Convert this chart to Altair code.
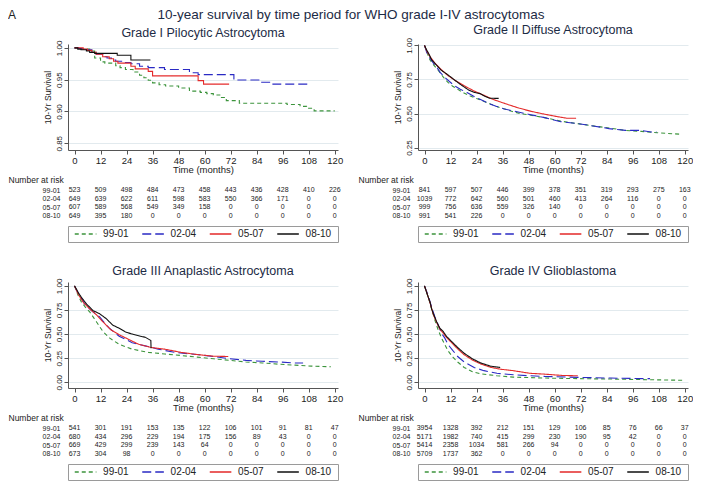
import altair as alt
import pandas as pd

FONT = "Liberation Sans"
MAIN_TITLE = "10-year survival by time period for WHO grade I-IV astrocytomas"
PANEL_LETTER = "A"
PERIODS = ["99-01", "02-04", "05-07", "08-10"]
COLORS = ["#3c943c", "#2a2ac4", "#e42a2a", "#111111"]
DASHES = [[4, 3], [9, 4], [1, 0], [1, 0]]
MONTHS = [0, 12, 24, 36, 48, 60, 72, 84, 96, 108, 120]

# ---- Grade I Pilocytic Astrocytoma (month, survival) ----
G1_9901 = [(0, 1.0), (3, 0.998), (7, 0.995), (9.3, 0.984), (12, 0.978), (14, 0.976), (19, 0.972),
           (21, 0.969), (23.5, 0.966), (27, 0.962), (30, 0.957), (32, 0.953), (34, 0.949), (36, 0.945),
           (39, 0.942), (42, 0.940), (48, 0.937), (53, 0.932), (58, 0.930), (61, 0.928), (64, 0.926),
           (67, 0.922), (70, 0.917), (76, 0.913), (98, 0.911), (104, 0.908), (107, 0.905),
           (110.5, 0.901), (120, 0.901)]
G1_0204 = [(0, 1.0), (2, 0.999), (5, 0.997), (8, 0.993), (10, 0.990), (13, 0.986), (15, 0.984),
           (17, 0.981), (19, 0.979), (22, 0.977), (26, 0.975), (30, 0.971), (34, 0.969), (41.5, 0.966),
           (53, 0.961), (57, 0.958), (73.5, 0.9495), (85, 0.946), (91.5, 0.943), (107.5, 0.943)]
G1_0507 = [(0, 1.0), (4, 0.998), (6, 0.996), (8, 0.993), (10, 0.990), (13, 0.986), (16, 0.983),
           (18, 0.979), (20, 0.976), (26, 0.971), (28, 0.967), (34, 0.963), (36, 0.956),
           (57, 0.9485), (59.5, 0.943), (71.3, 0.943)]
G1_0810 = [(0, 1.0), (1.5, 0.998), (3, 0.997), (5.5, 0.995), (7, 0.993), (9.3, 0.9914),
           (19.7, 0.9884), (26, 0.981), (35, 0.981)]

# ---- Grade II Diffuse Astrocytoma ----
G2_9901 = [(0, 1.0), (1, 0.955), (2.5, 0.894), (4, 0.86), (6.3, 0.818), (8.5, 0.77), (10.7, 0.73),
           (13, 0.70), (15.2, 0.679), (18, 0.652), (21.1, 0.629), (24, 0.61), (27.1, 0.591),
           (30, 0.572), (33, 0.553), (36.5, 0.535), (40.5, 0.515), (44, 0.50), (48, 0.49),
           (55.4, 0.47), (62.8, 0.444), (70.2, 0.427), (77.7, 0.409), (85.1, 0.394), (92.6, 0.376),
           (100, 0.369), (107.4, 0.359), (114.9, 0.351), (118.6, 0.348)]
G2_0204 = [(0, 1.0), (1, 0.95), (2.5, 0.907), (4, 0.872), (5.5, 0.843), (7.3, 0.80), (9.2, 0.768),
           (11.5, 0.735), (13.7, 0.705), (16.5, 0.678), (19.6, 0.654), (22.5, 0.628), (25.6, 0.604),
           (29, 0.578), (33, 0.553), (36.5, 0.535), (40.5, 0.52), (47.9, 0.495), (55.4, 0.47),
           (62.8, 0.44), (70.2, 0.427), (77.7, 0.409), (85.1, 0.389), (92.6, 0.376), (100, 0.376),
           (104.5, 0.364), (107, 0.364)]
G2_0507 = [(0, 1.0), (1, 0.96), (2.5, 0.919), (4.8, 0.869), (7.7, 0.823), (10.7, 0.78),
           (13.7, 0.747), (18.2, 0.705), (22.6, 0.667), (27.1, 0.636), (31.5, 0.604), (37.5, 0.571),
           (43.5, 0.54), (49.4, 0.515), (55.4, 0.495), (61.3, 0.477), (65.8, 0.465), (69.9, 0.465)]
G2_0810 = [(0, 1.0), (1, 0.965), (1.8, 0.944), (3.3, 0.894), (5.5, 0.856), (7.7, 0.818),
           (10.7, 0.785), (13.7, 0.748), (16.7, 0.712), (20.4, 0.672), (23, 0.655), (25.6, 0.646),
           (27.1, 0.632), (30, 0.612), (34.2, 0.611)]

# ---- Grade III Anaplastic Astrocytoma ----
G3_9901 = [(0, 1.0), (1.8, 0.893), (3.3, 0.827), (5, 0.78), (7.1, 0.727), (10.1, 0.627),
           (13.1, 0.527), (16.1, 0.46), (20.6, 0.393), (26.6, 0.343), (34.1, 0.31), (41.6, 0.293),
           (49.1, 0.277), (56.6, 0.26), (64.1, 0.243), (71.6, 0.227), (79.1, 0.21), (86.6, 0.2),
           (94.1, 0.187), (101.7, 0.177), (109.2, 0.167), (118.2, 0.16)]
G3_0204 = [(0, 1.0), (1, 0.95), (2.6, 0.893), (4.8, 0.81), (7.8, 0.743), (11.6, 0.677), (14, 0.61),
           (16.1, 0.56), (20.6, 0.477), (26.6, 0.41), (32.6, 0.377), (38.6, 0.343), (46.1, 0.31),
           (56.6, 0.287), (64.1, 0.267), (71.6, 0.243), (79.1, 0.227), (86.6, 0.217), (94.1, 0.21),
           (101.7, 0.2), (105.4, 0.2)]
G3_0507 = [(0, 1.0), (1.8, 0.91), (4.1, 0.827), (7.1, 0.76), (10.1, 0.70), (13.1, 0.627),
           (16.8, 0.543), (20.6, 0.493), (25.1, 0.443), (29.6, 0.393), (35.6, 0.36), (41.6, 0.343),
           (49.1, 0.31), (56.6, 0.287), (64.1, 0.27), (70.9, 0.267)]
G3_0810 = [(0, 1.0), (1.05, 0.96), (1.8, 0.927), (3.3, 0.877), (5.6, 0.81), (8.6, 0.743),
           (11.6, 0.71), (14.6, 0.66), (17.6, 0.593), (20.6, 0.56), (23.6, 0.52), (26.6, 0.50),
           (30.3, 0.477), (32.6, 0.467), (35.2, 0.433), (35.3, 0.353)]

# ---- Grade IV Glioblastoma ----
G4_9901 = [(0, 1.0), (1.8, 0.877), (3.3, 0.76), (4.8, 0.643), (6.3, 0.543), (7.8, 0.46),
           (9.3, 0.393), (10.8, 0.327), (13.1, 0.26), (15.3, 0.21), (18.3, 0.153), (22.1, 0.11),
           (25.9, 0.087), (33.4, 0.067), (40.9, 0.053), (55.9, 0.043), (71, 0.037), (86, 0.033),
           (101, 0.027), (119, 0.02)]
G4_0204 = [(0, 1.0), (1.8, 0.893), (3.3, 0.777), (4.8, 0.677), (6.3, 0.593), (7.8, 0.51),
           (9.3, 0.46), (10.8, 0.393), (13.1, 0.327), (15.3, 0.267), (18.3, 0.21), (22.9, 0.153),
           (27.4, 0.12), (33.4, 0.093), (40.9, 0.077), (48.4, 0.067), (55.9, 0.06), (71, 0.05),
           (86, 0.043), (101, 0.037), (104, 0.037)]
G4_0507 = [(0, 1.0), (1.05, 0.93), (2.6, 0.82), (4.1, 0.70), (5.6, 0.62), (7.1, 0.55), (8.6, 0.51),
           (10.1, 0.465), (12.3, 0.415), (15.3, 0.345), (18.3, 0.285), (22.1, 0.23), (25.9, 0.19),
           (30.4, 0.155), (35, 0.135), (40.9, 0.12), (48.4, 0.093), (55.9, 0.083), (63.5, 0.07),
           (70.7, 0.067)]
G4_0810 = [(0, 1.0), (1.05, 0.927), (2.6, 0.827), (3.3, 0.76), (4.1, 0.71), (5.6, 0.627),
           (7.1, 0.56), (8.6, 0.527), (10.1, 0.477), (12.3, 0.427), (15.3, 0.36), (18.3, 0.30),
           (22.1, 0.243), (25.9, 0.20), (30.4, 0.167), (34.9, 0.153)]

# ---- Number at risk ----
RISK_G1 = {"99-01": [523, 509, 498, 484, 473, 458, 443, 436, 428, 410, 226],
           "02-04": [649, 639, 622, 611, 598, 583, 550, 366, 171, 0, 0],
           "05-07": [607, 589, 568, 549, 349, 158, 0, 0, 0, 0, 0],
           "08-10": [649, 395, 180, 0, 0, 0, 0, 0, 0, 0, 0]}
RISK_G2 = {"99-01": [841, 597, 507, 446, 399, 378, 351, 319, 293, 275, 163],
           "02-04": [1039, 772, 642, 560, 501, 460, 413, 264, 116, 0, 0],
           "05-07": [999, 756, 636, 559, 326, 140, 0, 0, 0, 0, 0],
           "08-10": [991, 541, 226, 0, 0, 0, 0, 0, 0, 0, 0]}
RISK_G3 = {"99-01": [541, 301, 191, 153, 135, 122, 106, 101, 91, 81, 47],
           "02-04": [680, 434, 296, 229, 194, 175, 156, 89, 43, 0, 0],
           "05-07": [669, 429, 299, 239, 143, 64, 0, 0, 0, 0, 0],
           "08-10": [673, 304, 98, 0, 0, 0, 0, 0, 0, 0, 0]}
RISK_G4 = {"99-01": [3954, 1328, 392, 212, 151, 129, 106, 85, 76, 66, 37],
           "02-04": [5171, 1982, 740, 415, 299, 230, 190, 95, 42, 0, 0],
           "05-07": [5414, 2358, 1034, 581, 266, 94, 0, 0, 0, 0, 0],
           "08-10": [5709, 1737, 362, 0, 0, 0, 0, 0, 0, 0, 0]}

W = 270
H = 106
LEFT = 60
XDOM = [-3, 121.5]
TITLE_COLOR = "#1c2b45"
TEXT_COLOR = "#222222"

color_enc = alt.Color("period:N", scale=alt.Scale(domain=PERIODS, range=COLORS), legend=None)
dash_enc = alt.StrokeDash("period:N", scale=alt.Scale(domain=PERIODS, range=DASHES), legend=None)


def make_panel(title, curves, risk, yticks, ydom, interp):
    rows = []
    for p, pts in zip(PERIODS, curves):
        for t, s in pts:
            rows.append({"period": p, "month": t, "surv": s})
    df = pd.DataFrame(rows)

    x = alt.X("month:Q", scale=alt.Scale(domain=XDOM, nice=False, zero=False),
              axis=alt.Axis(values=MONTHS, title="Time (months)", labelFontSize=9.5,
                            titleFontSize=9.5, titleFontWeight="normal", tickSize=4,
                            labelPadding=1, titlePadding=0, labelFlush=False,
                            labelOverlap=False, grid=False))
    y = alt.Y("surv:Q", scale=alt.Scale(domain=ydom, nice=False, zero=False),
              axis=alt.Axis(values=yticks, format=".2f", title="10-Yr Survival", labelAngle=270,
                            labelAlign="center", labelBaseline="bottom", labelFontSize=8,
                            titleFontSize=8.5, titleFontWeight="normal", tickSize=4,
                            labelPadding=1, titlePadding=3, grid=True, gridColor="#e2eaee",
                            labelFlush=False, labelOverlap=False))
    layers = []
    for p in PERIODS:
        layers.append(
            alt.Chart(df[df["period"] == p]).mark_line(interpolate=interp, strokeWidth=1.1)
            .encode(x=x, y=y, color=color_enc, strokeDash=dash_enc)
        )
    plot = alt.layer(*layers).properties(
        width=W, height=H,
        title=alt.TitleParams(title, fontSize=12.5, offset=1, anchor="middle",
                              color=TITLE_COLOR, fontWeight="normal", font=FONT))

    rrows = []
    for p in PERIODS:
        for m, v in zip(MONTHS, risk[p]):
            rrows.append({"period": p, "month": m, "n": v})
    tab = alt.Chart(pd.DataFrame(rrows)).mark_text(fontSize=7, font=FONT, color=TEXT_COLOR).encode(
        x=alt.X("month:Q", scale=alt.Scale(domain=XDOM, nice=False, zero=False), axis=None),
        y=alt.Y("period:N", scale=alt.Scale(domain=PERIODS, paddingInner=0, paddingOuter=0.12, align=0),
                axis=alt.Axis(title="Number at risk", titleAngle=0, titleAlign="left",
                              titleBaseline="middle", titleX=-LEFT, titleY=-11, titleFontSize=8.5,
                              titleFontWeight="normal", labelFontSize=7, labelPadding=8,
                              ticks=False, domain=False)),
        text="n:Q",
    ).properties(width=W, height=34)

    ldf = pd.DataFrame({"period": PERIODS, "slot": [0, 1, 2, 3]})
    lx = alt.Scale(domain=[0, 4], nice=False, zero=False)
    keys = alt.Chart(ldf).transform_calculate(
        a="datum.slot + 0.1", b="datum.slot + 0.42"
    ).mark_rule(strokeWidth=1.3).encode(
        x=alt.X("a:Q", scale=lx, axis=None), x2="b:Q", y=alt.value(8),
        color=color_enc, strokeDash=dash_enc)
    labs = alt.Chart(ldf).transform_calculate(c="datum.slot + 0.52").mark_text(
        align="left", baseline="middle", fontSize=10, font=FONT, color=TEXT_COLOR
    ).encode(x=alt.X("c:Q", scale=lx, axis=None), y=alt.value(8), text="period:N")
    leg = alt.layer(keys, labs).properties(
        width=W, height=16, view=alt.ViewBackground(stroke="#9a9a9a", strokeWidth=1))

    return alt.vconcat(plot, tab, leg, spacing=1)


p1 = make_panel("Grade I Pilocytic Astrocytoma", [G1_9901, G1_0204, G1_0507, G1_0810], RISK_G1,
                [0.85, 0.90, 0.95, 1.00], [0.8394, 1.0061], "step-after")
p2 = make_panel("Grade II Diffuse Astrocytoma", [G2_9901, G2_0204, G2_0507, G2_0810], RISK_G2,
                [0.25, 0.50, 0.75, 1.00], [0.2323, 1.0101], "linear")
p3 = make_panel("Grade III Anaplastic Astrocytoma", [G3_9901, G3_0204, G3_0507, G3_0810], RISK_G3,
                [0.0, 0.25, 0.50, 0.75, 1.00], [-0.06, 1.04], "linear")
p4 = make_panel("Grade IV Glioblastoma", [G4_9901, G4_0204, G4_0507, G4_0810], RISK_G4,
                [0.0, 0.25, 0.50, 0.75, 1.00], [-0.06, 1.04], "linear")

HEADER_W = 685 - LEFT
header = alt.layer(
    alt.Chart(pd.DataFrame({"t": [PANEL_LETTER]})).mark_text(
        align="left", baseline="middle", fontSize=12, font=FONT, color=TEXT_COLOR
    ).encode(x=alt.value(-LEFT), y=alt.value(6), text="t:N"),
    alt.Chart(pd.DataFrame({"t": [MAIN_TITLE]})).mark_text(
        align="center", baseline="middle", fontSize=13.5, font=FONT, color=TITLE_COLOR
    ).encode(x=alt.value(343 - LEFT), y=alt.value(6), text="t:N"),
).properties(width=HEADER_W, height=12)

row1 = alt.hconcat(p1, p2, spacing=15)
row2 = alt.hconcat(p3, p4, spacing=15)

chart = alt.vconcat(alt.vconcat(header, row1, spacing=2), row2, spacing=21).properties(
    padding=0
).configure(font=FONT).configure_view(strokeWidth=0).configure_axis(
    domainColor="#555555", tickColor="#555555", labelColor=TEXT_COLOR, titleColor=TEXT_COLOR,
    labelFont=FONT, titleFont=FONT
)

chart.save("out.html", embed_options={"renderer": "svg", "actions": False})
